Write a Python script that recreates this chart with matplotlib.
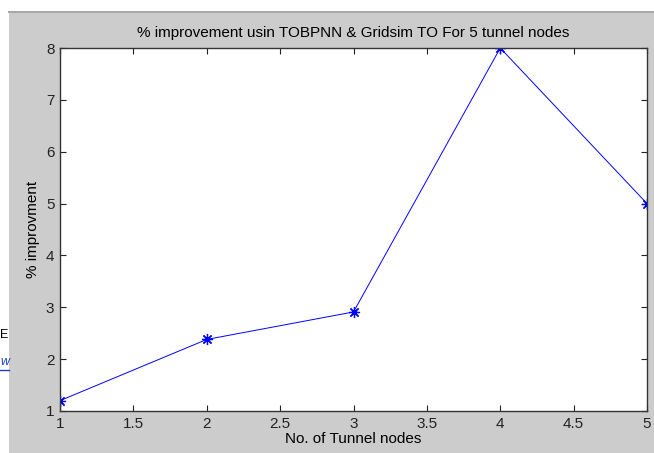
import matplotlib
matplotlib.use('Agg')
import matplotlib.pyplot as plt
from matplotlib.patches import Rectangle
from matplotlib.lines import Line2D

# data
tunnel_nodes = [1, 2, 3, 4, 5]
improvement = [1.2, 2.38, 2.91, 8.0, 5.0]
x_ticks = [1, 1.5, 2, 2.5, 3, 3.5, 4, 4.5, 5]
x_tick_labels = ['1', '1.5', '2', '2.5', '3', '3.5', '4', '4.5', '5']
y_ticks = [1, 2, 3, 4, 5, 6, 7, 8]

plt.rcParams['font.family'] = ['Liberation Sans', 'DejaVu Sans']

fig = plt.figure(figsize=(6.54, 4.53), dpi=100)
fig.patch.set_facecolor('#cccccc')

# white strips of the surrounding screenshot
fig.add_artist(Rectangle((0, 1 - 11 / 453), 1, 11 / 453, transform=fig.transFigure,
                         facecolor='white', edgecolor='none', zorder=0))
fig.add_artist(Line2D([9 / 654, 1], [1 - 12 / 453, 1 - 12 / 453], transform=fig.transFigure,
                      color='#a8a8a8', linewidth=1.5))
fig.add_artist(Rectangle((0, 0), 9 / 654, 1, transform=fig.transFigure,
                         facecolor='white', edgecolor='none', zorder=0))
fig.text(0, 1 - 335 / 453, 'E', fontsize=9, va='center', ha='left')
fig.text(0, 1 - 362 / 453, 'w', fontsize=9, va='center', ha='left',
         color='#1a3ec8', style='italic')
fig.add_artist(Line2D([0, 9 / 654], [1 - 370 / 453, 1 - 370 / 453], transform=fig.transFigure,
                      color='#1a3ec8', linewidth=1))

ax = fig.add_axes([60 / 654, 42 / 453, 587 / 654, 363 / 453])
ax.set_facecolor('white')

# MATLAB style '*' marker: plus and cross combined
ax.plot(tunnel_nodes, improvement, color='blue', linewidth=0.7,
        marker=(8, 2, 0), markersize=8, markeredgewidth=0.9)

ax.set_xlim(1, 5)
ax.set_ylim(1, 8)
ax.set_xticks(x_ticks)
ax.set_xticklabels(x_tick_labels)
ax.set_yticks(y_ticks)
ax.tick_params(direction='in', length=4, width=0.8, labelsize=11,
               top=True, right=True, colors='#222222', pad=4)
for s in ax.spines.values():
    s.set_linewidth(1.0)
    s.set_color('#333333')

ax.set_title('% improvement usin TOBPNN & Gridsim TO For 5 tunnel nodes',
             fontsize=11, pad=8)
ax.set_xlabel('No. of Tunnel nodes', fontsize=11, labelpad=1)
ax.set_ylabel('% improvment', fontsize=11, labelpad=4)

fig.savefig('out.png', dpi=100, facecolor=fig.get_facecolor())
